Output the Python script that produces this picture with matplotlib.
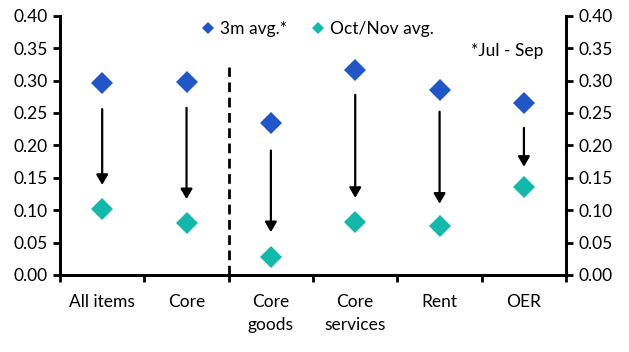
import numpy as np
import matplotlib.pyplot as plt
from matplotlib.lines import Line2D

plt.rcParams['font.family'] = ['Lato', 'DejaVu Sans']

categories = ['All items', 'Core', 'Core\ngoods', 'Core\nservices', 'Rent', 'OER']
avg_3m = [0.297, 0.298, 0.235, 0.317, 0.286, 0.265]
avg_octnov = [0.102, 0.080, 0.028, 0.081, 0.075, 0.135]
arrow_start = [0.256, 0.258, 0.192, 0.278, 0.252, 0.227]
arrow_end = [0.139, 0.117, 0.066, 0.119, 0.110, 0.167]
yticks = [0.00, 0.05, 0.10, 0.15, 0.20, 0.25, 0.30, 0.35, 0.40]

blue = '#2156c9'
teal = '#12b8a9'

fig = plt.figure(figsize=(6.29, 3.52), dpi=100)
ax = fig.add_axes([0.0954, 0.219, 0.8046, 0.736])

x = np.arange(len(categories))
ax.plot(x, avg_3m, 'D', color=blue, markersize=11.5, markeredgewidth=0, zorder=3)
ax.plot(x, avg_octnov, 'D', color=teal, markersize=11.5, markeredgewidth=0, zorder=3)

for xi, s, e in zip(x, arrow_start, arrow_end):
    ax.annotate('', xy=(xi, e), xytext=(xi, s),
                arrowprops=dict(arrowstyle='-|>,head_length=0.6,head_width=0.35',
                                color='black', lw=1.6, shrinkA=0, shrinkB=0))

# separator between headline and components
ax.plot([1.5, 1.5], [0, 0.321], color='black', lw=2, ls=(0, (3.5, 2)))

ax.set_xlim(-0.5, len(categories) - 0.5)
ax.set_ylim(0, 0.40)
ax.set_yticks(yticks)
ax.set_yticklabels([f'{v:.2f}' for v in yticks])
ax.set_xticks(np.arange(len(categories) + 1) - 0.5)
ax.set_xticklabels([])
ax.set_xticks(x, minor=True)
ax.set_xticklabels(categories, minor=True)
for lab in ax.get_xticklabels(minor=True):
    lab.set_linespacing(1.5)
ax.tick_params(axis='x', which='minor', length=0, pad=14, labelsize=12.5)
ax.tick_params(axis='x', which='major', length=5, width=2, direction='out')
ax.tick_params(axis='y', length=5, width=2, direction='out', pad=4, labelsize=12.5)

ax2 = ax.twinx()
ax2.set_ylim(0, 0.40)
ax2.set_yticks(yticks)
ax2.set_yticklabels([f'{v:.2f}' for v in yticks])
ax2.tick_params(axis='y', length=5, width=2, direction='out', labelsize=12.5, pad=4)

for a in (ax, ax2):
    a.spines['top'].set_visible(False)
    for s in ('left', 'right', 'bottom'):
        a.spines[s].set_linewidth(2)

handles = [Line2D([], [], marker='D', ls='', color=blue, markersize=6.5, markeredgewidth=0),
           Line2D([], [], marker='D', ls='', color=teal, markersize=6.5, markeredgewidth=0)]
ax.legend(handles, ['3m avg.*', 'Oct/Nov avg.'], loc='upper center', bbox_to_anchor=(0.505, 1.04),
          ncol=2, frameon=False, fontsize=12.5, handletextpad=0.1, columnspacing=1.2, handlelength=1.2)

ax.text(0.955, 0.865, '*Jul - Sep', transform=ax.transAxes, ha='right', va='center', fontsize=12.5)

fig.savefig('out.png', dpi=100)
